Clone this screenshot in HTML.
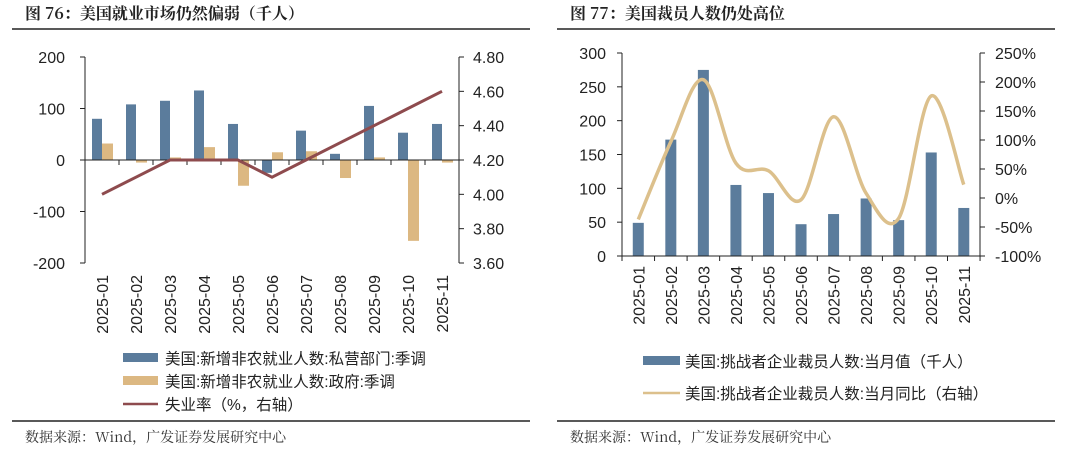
<!DOCTYPE html>
<html><head><meta charset="utf-8">
<style>
body{margin:0;background:#fff;width:1080px;height:454px;overflow:hidden;font-family:"Liberation Sans","Noto Sans CJK SC",sans-serif}
svg{position:absolute;left:0;top:0}
</style></head><body>
<svg id="s" width="1080" height="454" xmlns="http://www.w3.org/2000/svg"></svg>
<script>
var s=document.getElementById('s'),h='';
function t(x,y,str,o){o=o||{};h+='<text x="'+x+'" y="'+y+'" font-size="'+(o.fs||15)+'" fill="'+(o.c||'#222')+'" text-anchor="'+(o.a||'start')+'"'+(o.tr?' transform="'+o.tr+'"':'')+(o.ff?' font-family=\''+o.ff+'\'':'')+(o.fw?' font-weight="'+o.fw+'"':'')+'>'+str+'</text>';}
function L(x1,y1,x2,y2,c,w){h+='<line x1="'+x1+'" y1="'+y1+'" x2="'+x2+'" y2="'+y2+'" stroke="'+(c||'#222')+'" stroke-width="'+(w||1)+'"/>';}
function R(x,y,w,hh,c){if(hh<0){y+=hh;hh=-hh;}h+='<rect x="'+x+'" y="'+y+'" width="'+w+'" height="'+hh+'" fill="'+c+'"/>';}
var blue='#5b7c9c',tan='#dcb882',red='#8e4b4e';
var titleF='"Noto Serif CJK SC","Noto Sans CJK SC",serif';
t(25,19,'图 76：美国就业市场仍然偏弱（千人）',{fs:16,fw:'bold',ff:titleF});
t(570,19,'图 77：美国裁员人数仍处高位',{fs:16,fw:'bold',ff:titleF});
L(12,29,530,29,'#222',1.5);L(557,29,1055,29,'#222',1.5);
L(12,421,530,421,'#222',1.5);L(557,421,1055,421,'#222',1.5);
t(25,442,'数据来源：Wind，广发证券发展研究中心',{fs:14,c:'#333',ff:titleF});
t(570,442,'数据来源：Wind，广发证券发展研究中心',{fs:14,c:'#333',ff:titleF});
var months=[];for(var i=1;i<=11;i++)months.push('2025-'+(i<10?'0':'')+i);
var x0=85,x1=459,cw=34,y0=160,k=103/200;
function yl(v){return y0-v*k;}
function yr(v){return 160-(v-4.2)/1.2*206;}
var b=[80,108,115,135,70,-25,57,12,105,53,70],g=[32,-5,5,25,-50,15,17,-35,5,-157,-5],u=[4.0,4.1,4.2,4.2,4.2,4.1,4.2,4.3,4.4,4.5,4.6];
for(i=0;i<11;i++){var c=x0+cw*i+17;R(c-10,y0,10,-b[i]*k,blue);R(c,y0,11,-g[i]*k,tan);}
L(x0,57,x0,263);L(x1,57,x1,263);L(x0,y0,x1,y0);
[200,100,0,-100,-200].forEach(function(v){L(x0-5,yl(v),x0,yl(v));t(x0-20,yl(v)+6,v,{fs:16,a:'end'});});
[4.8,4.6,4.4,4.2,4.0,3.8,3.6].forEach(function(v){L(x1,yr(v),x1+5,yr(v));t(x1+14,yr(v)+6,v.toFixed(2),{fs:16});});
for(i=1;i<11;i++)L(x0+cw*i,y0,x0+cw*i,y0+5);
var p='';for(i=0;i<11;i++)p+=(i?'L':'M')+(x0+cw*i+17)+' '+yr(u[i]);
h+='<path d="'+p+'" fill="none" stroke="'+red+'" stroke-width="3"/>';
for(i=0;i<11;i++){var cx=x0+cw*i+17+6;t(cx,275,months[i],{fs:16,a:'end',tr:'rotate(-90 '+cx+' 275)'});}
R(123,353,35,9,blue);t(165,364,'美国:新增非农就业人数:私营部门:季调',{fs:15.5});
R(123,376,35,9,tan);t(165,387,'美国:新增非农就业人数:政府:季调',{fs:15.5});
L(123,404,158,404,red,2.5);t(165,410,'失业率（%，右轴）',{fs:15.5});
var X0=622,X1=980,CW=32.55,Y0=256,K=203/300;
function y2(v){return Y0-v*K;}function y3(v){return 198-v/50*29;}
var bb=[49,172,275,105,93,47,62,85,53,153,71],pp=[-37,97,204,60,47,-3,140,8,-35,176,23];
for(i=0;i<11;i++){var c2=X0+CW*i+CW/2;R(c2-5.5,Y0,11,-bb[i]*K,blue);}
L(X0,53,X0,Y0);L(X1,53,X1,Y0);L(X0,Y0,X1,Y0);
[300,250,200,150,100,50,0].forEach(function(v){L(X0-5,y2(v),X0,y2(v));t(X0-16,y2(v)+6,v,{fs:16,a:'end'});});
[250,200,150,100,50,0,-50,-100].forEach(function(v){L(X1,y3(v),X1+5,y3(v));t(X1+15,y3(v)+6,v+'%',{fs:16});});
for(i=0;i<=11;i++)L(X0+CW*i,Y0,X0+CW*i,Y0+5);
var P=[];for(i=0;i<11;i++)P.push([X0+CW*i+CW/2,y3(pp[i])]);
var d='M'+P[0][0]+' '+P[0][1];
for(i=0;i<10;i++){var a=P[i-1]||P[i],b0=P[i],c0=P[i+1],e=P[i+2]||P[i+1];
d+='C'+(b0[0]+(c0[0]-a[0])/6)+' '+(b0[1]+(c0[1]-a[1])/6)+' '+(c0[0]-(e[0]-b0[0])/6)+' '+(c0[1]-(e[1]-b0[1])/6)+' '+c0[0]+' '+c0[1];}
h+='<path d="'+d+'" fill="none" stroke="#dcc08c" stroke-width="3.5"/>';
for(i=0;i<11;i++){var cx2=X0+CW*i+CW/2+6;t(cx2,266,months[i],{fs:16,a:'end',tr:'rotate(-90 '+cx2+' 266)'});}
R(643,356,37,9,blue);t(685,367,'美国:挑战者企业裁员人数:当月值（千人）',{fs:15.5});
L(643,393,680,393,'#dcc08c',2.5);t(685,399,'美国:挑战者企业裁员人数:当月同比（右轴）',{fs:15.5});
s.innerHTML=h;
</script>
</body></html>
